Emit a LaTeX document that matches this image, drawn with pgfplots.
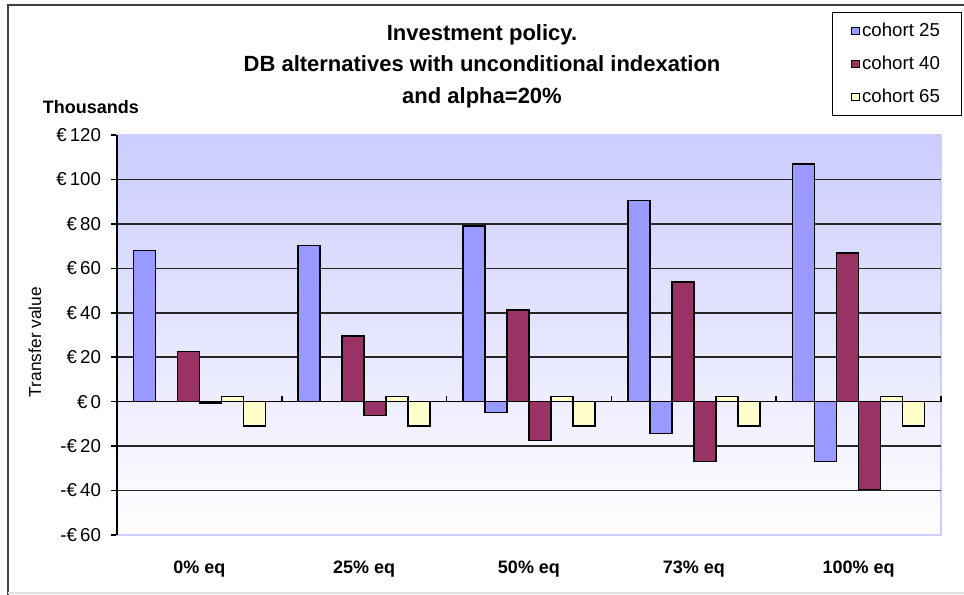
\documentclass[border=0pt]{standalone}
\usepackage{pgfplots}
\pgfplotsset{compat=1.18}
\usepackage{fontspec}
\setmainfont{Liberation Sans}
\definecolor{cblue}{HTML}{9999FF}
\definecolor{cmaroon}{HTML}{993366}
\definecolor{cyellow}{HTML}{FFFFCC}
\definecolor{lav}{HTML}{CCCCFF}
\definecolor{frame}{HTML}{404040}
\begin{document}
\begin{tikzpicture}
\useasboundingbox (0,0) rectangle (723pt,446.25pt);
\draw[frame, line width=1.1pt] (6pt,-2pt) -- (6pt,442.5pt) -- (726pt,442.5pt);
\draw[black!12, line width=0.8pt] (6pt,1.5pt) -- (726pt,1.5pt);
\begin{axis}[
  at={(87.75pt,45pt)}, anchor=south west,
  scale only axis, width=618pt, height=300pt,
  clip=false,
  xmin=-0.5, xmax=4.5, ymin=-60, ymax=120,
  xtick={0,1,2,3,4},
  xticklabels={0\% eq,25\% eq,50\% eq,73\% eq,100\% eq},
  xtick style={draw=none},
  xticklabel style={font=\fontsize{13.5pt}{16pt}\selectfont\bfseries, yshift=-11.5pt},
  ytick={-60,-40,-20,0,20,40,60,80,100,120},
  yticklabels={-€\,60,-€\,40,-€\,20,€\,0,€\,20,€\,40,€\,60,€\,80,€\,100,€\,120},
  yticklabel style={font=\fontsize{14pt}{16pt}\selectfont, xshift=-4pt},
  ytick pos=left,
  tick align=outside,
  major tick length=4.5pt,
  y tick style={black, line width=1.1pt},
  extra y ticks={-40,-20,20,40,60,80,100},
  extra y tick labels={},
  extra y tick style={grid=major, major tick length=0pt},
  grid style={black!85, line width=1.1pt},
  axis background/.style={top color=lav, bottom color=white},
  axis line style={draw=lav, line width=1pt},
  title={Investment policy.\\DB alternatives with unconditional indexation\\and alpha=20\%},
  title style={at={(rel axis cs:0.443,1.152)}, anchor=center, align=center, font=\fontsize{16.5pt}{23.6pt}\selectfont\bfseries},
  ylabel={Transfer value},
  ylabel style={at={(rel axis cs:-0.0995,0.4825)}, anchor=center, font=\fontsize{13pt}{15pt}\selectfont},
  legend style={at={(rel axis cs:0.8677,1.3075)}, anchor=north west, draw=black, line width=0.75pt,
    font=\fontsize{14pt}{16pt}\selectfont, inner xsep=14pt, inner ysep=6pt, row sep=9pt},
  legend cell align=left,
  legend image code/.code={\draw[#1, line width=0.6pt] (0pt,-2.8pt) rectangle (5.6pt,2.8pt);},
]
% cohort 25 (gains)
\addplot[ybar, bar width=0.1335, bar shift=-0.3338, fill=cblue, draw=black, line width=1.1pt]
  coordinates {(0,68) (1,70.3) (2,79) (3,90.5) (4,107)};
\addlegendentry{cohort 25}
% cohort 40 (gains)
\addplot[ybar, bar width=0.1335, bar shift=-0.0668, fill=cmaroon, draw=black, line width=1.1pt]
  coordinates {(0,22.6) (1,29.6) (2,41.3) (3,53.8) (4,67)};
\addlegendentry{cohort 40}
% cohort 65 (gains)
\addplot[ybar, bar width=0.1335, bar shift=0.2003, fill=cyellow, draw=black, line width=1.1pt]
  coordinates {(0,2.4) (1,2.4) (2,2.4) (3,2.4) (4,2.4)};
\addlegendentry{cohort 65}
% cohort 25 (losses)
\addplot[ybar, forget plot, bar width=0.1335, bar shift=-0.2003, fill=cblue, draw=black, line width=1.1pt]
  coordinates {(2,-4.8) (3,-14.3) (4,-27)};
% cohort 40 (losses)
\addplot[ybar, forget plot, bar width=0.1335, bar shift=0.0668, fill=cmaroon, draw=black, line width=1.1pt]
  coordinates {(0,-0.7) (1,-6.3) (2,-17.4) (3,-27) (4,-39.6)};
% cohort 65 (losses)
\addplot[ybar, forget plot, bar width=0.1335, bar shift=0.3338, fill=cyellow, draw=black, line width=1.1pt]
  coordinates {(0,-11) (1,-11) (2,-11) (3,-11) (4,-11)};
\draw[black, line width=1.1pt] (rel axis cs:0,0) -- (rel axis cs:0,1);
\draw[black, line width=1.1pt] (axis cs:-0.5,0) -- (axis cs:4.5,0);
\pgfplotsinvokeforeach{0.5,1.5,2.5,3.5,4.5}{\draw[black, line width=1.1pt] (axis cs:#1,0) -- (axis cs:#1,2.6);}
\node[font=\fontsize{13.5pt}{16pt}\selectfont\bfseries, anchor=center] at (rel axis cs:-0.0316,1.07) {Thousands};
\end{axis}
\end{tikzpicture}
\end{document}
